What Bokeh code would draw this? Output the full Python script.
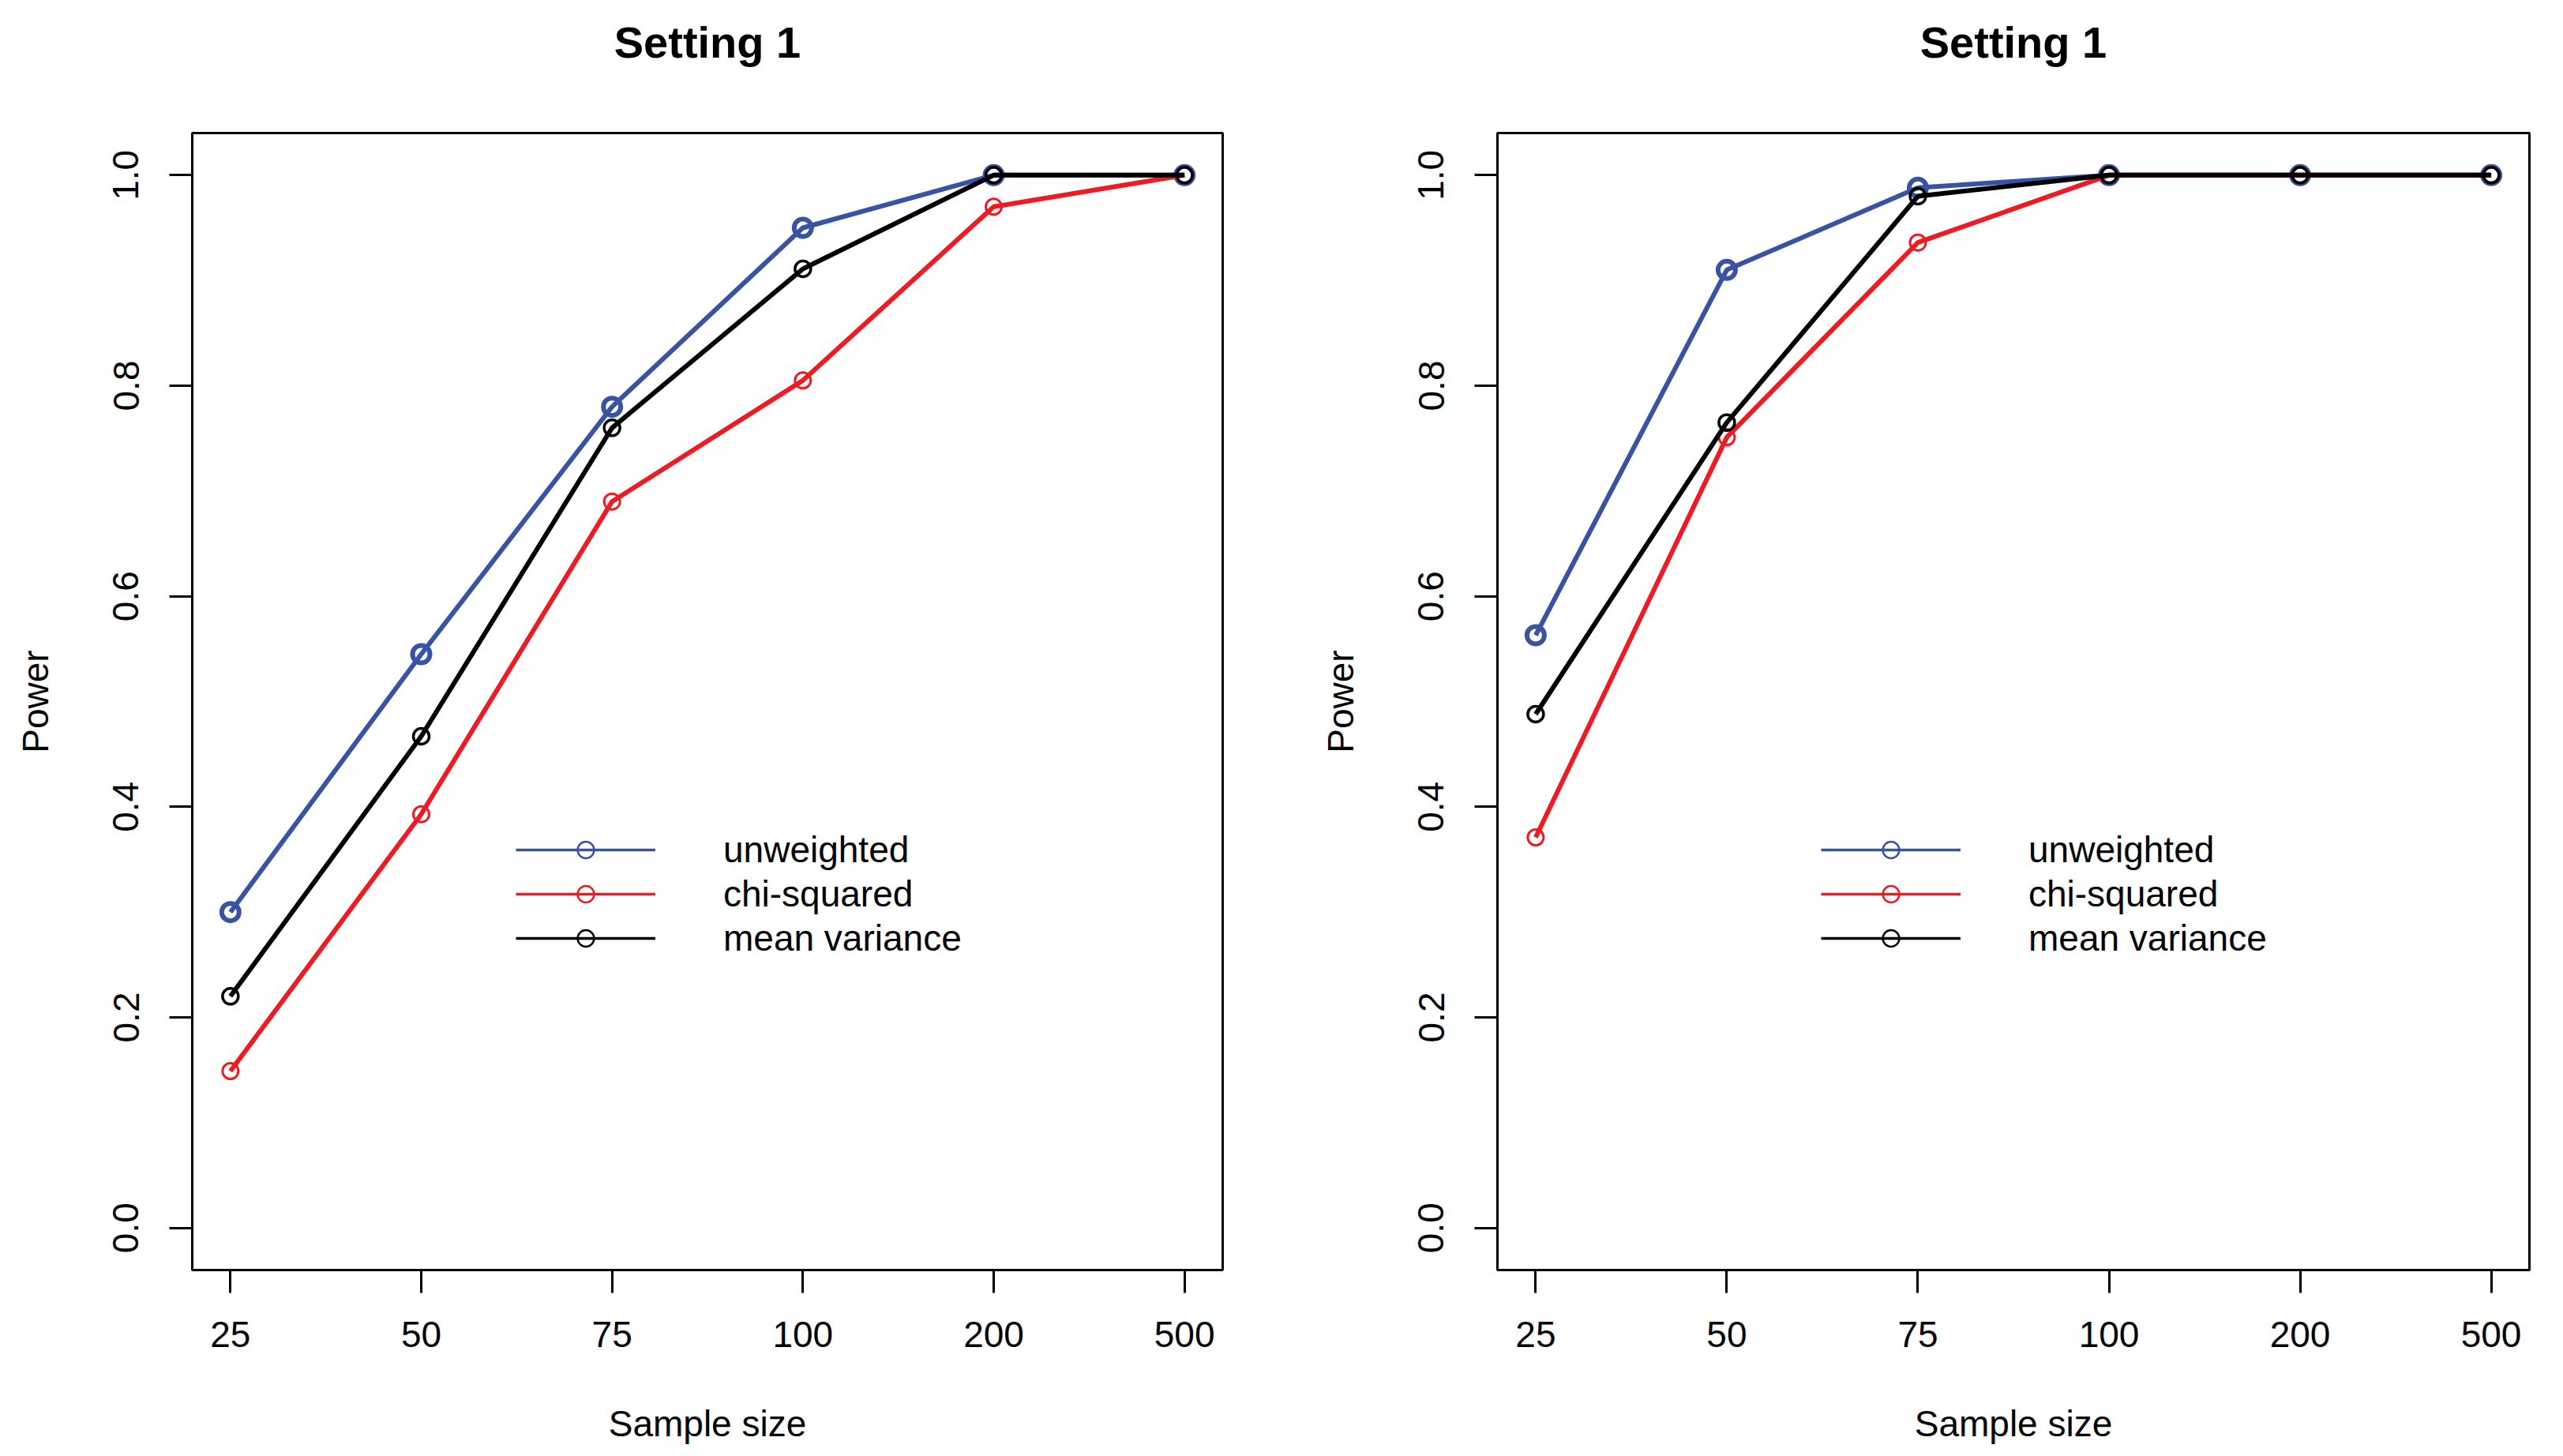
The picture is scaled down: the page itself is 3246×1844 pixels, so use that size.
from bokeh.plotting import figure
from bokeh.layouts import row
from bokeh.models import Range1d, FixedTicker, Legend, LegendItem, ColumnDataSource, Title
from bokeh.embed import file_html
from bokeh.resources import INLINE

# ---- data ----
sample_sizes = ["25", "50", "75", "100", "200", "500"]
y_tick_values = [0.0, 0.2, 0.4, 0.6, 0.8, 1.0]
y_tick_labels = ["0.0", "0.2", "0.4", "0.6", "0.8", "1.0"]
titles = ["Setting 1", "Setting 1"]
series_names = ["unweighted", "chi-squared", "mean variance"]

left_unweighted = [0.30, 0.545, 0.78, 0.95, 1.0, 1.0]
left_chisq = [0.149, 0.393, 0.69, 0.805, 0.970, 1.0]
left_meanvar = [0.22, 0.467, 0.760, 0.911, 1.0, 1.0]

right_unweighted = [0.563, 0.910, 0.988, 1.0, 1.0, 1.0]
right_chisq = [0.371, 0.751, 0.936, 1.0, 1.0, 1.0]
right_meanvar = [0.488, 0.765, 0.980, 1.0, 1.0, 1.0]

BLUE = "#3953A4"
RED = "#ED1C24"
BLACK = "#000000"
FONT = "Liberation Sans"


def make_plot(title, values, width, border_left, border_right):
    p = figure(width=width, height=1836, output_backend="svg", toolbar_location=None,
               x_range=Range1d(0.8, 6.2), y_range=Range1d(-0.04, 1.04),
               min_border_left=border_left, min_border_right=border_right,
               min_border_top=168, min_border_bottom=228,
               background_fill_color="white", border_fill_color="white")
    p.grid.visible = False
    p.outline_line_color = "black"
    p.outline_line_width = 3
    p.outline_line_alpha = 1.0

    # spacer (nearest the frame) followed by the real title above it
    p.add_layout(Title(text=" ", text_font_size="2px", standoff=80), "above")
    p.add_layout(Title(text=title, text_font=FONT, text_font_style="bold",
                       text_font_size="56px", text_color="black", align="center",
                       standoff=0), "above")

    xs = list(range(1, len(sample_sizes) + 1))
    for ax in (p.xaxis[0], p.yaxis[0]):
        ax.axis_line_width = 3
        ax.axis_line_color = "black"
        ax.major_tick_line_width = 3
        ax.major_tick_line_color = "black"
        ax.major_tick_out = 29
        ax.major_tick_in = 0
        ax.minor_tick_line_color = None
        ax.major_label_text_font = FONT
        ax.major_label_text_font_size = "46px"
        ax.major_label_text_color = "black"
        ax.axis_label_text_font = FONT
        ax.axis_label_text_font_size = "46px"
        ax.axis_label_text_font_style = "normal"
        ax.axis_label_text_color = "black"

    p.xaxis.ticker = FixedTicker(ticks=xs)
    p.xaxis.major_label_overrides = {x: s for x, s in zip(xs, sample_sizes)}
    p.xaxis.axis_label = "Sample size"
    p.xaxis.major_label_standoff = 36
    p.xaxis.axis_label_standoff = 68

    p.yaxis.ticker = FixedTicker(ticks=y_tick_values)
    p.yaxis.major_label_overrides = {v: s for v, s in zip(y_tick_values, y_tick_labels)}
    p.yaxis.major_label_orientation = "vertical"
    p.yaxis.axis_label = "Power"
    p.yaxis.major_label_standoff = 39
    p.yaxis.axis_label_standoff = 70

    styles = [(BLUE, 6, 22, 6), (RED, 6, 20, 3), (BLACK, 6, 20, 3.5)]
    for vals, (col, lw, ms, mlw) in zip(values, styles):
        src = ColumnDataSource(dict(x=xs, y=vals))
        p.line("x", "y", source=src, line_color=col, line_width=lw)
        p.scatter("x", "y", source=src, marker="circle", size=ms, fill_color=None,
                  line_color=col, line_width=mlw)

    items = []
    for name, col in zip(series_names, [BLUE, RED, BLACK]):
        off = ColumnDataSource(dict(x=[-100, -99], y=[-100, -100]))
        lr = p.line("x", "y", source=off, line_color=col, line_width=3.5)
        sr = p.scatter("x", "y", source=off, marker="circle", size=20, fill_color=None,
                       line_color=col, line_width=2.5)
        items.append(LegendItem(label=name, renderers=[lr, sr], index=0))
    leg = Legend(items=items, location=(410, 393), orientation="vertical",
                 glyph_width=177, glyph_height=52, spacing=2, label_standoff=86,
                 padding=0, margin=0, border_line_alpha=0, background_fill_alpha=0,
                 label_text_font=FONT, label_text_font_size="46px",
                 label_text_color="black")
    p.add_layout(leg, "center")
    return p


p1 = make_plot(titles[0], [left_unweighted, left_chisq, left_meanvar], 1620, 243, 72)
p2 = make_plot(titles[1], [right_unweighted, right_chisq, right_meanvar], 1620, 276, 37)

layout = row(p1, p2)
open("out.html", "w").write(file_html(layout, INLINE))
